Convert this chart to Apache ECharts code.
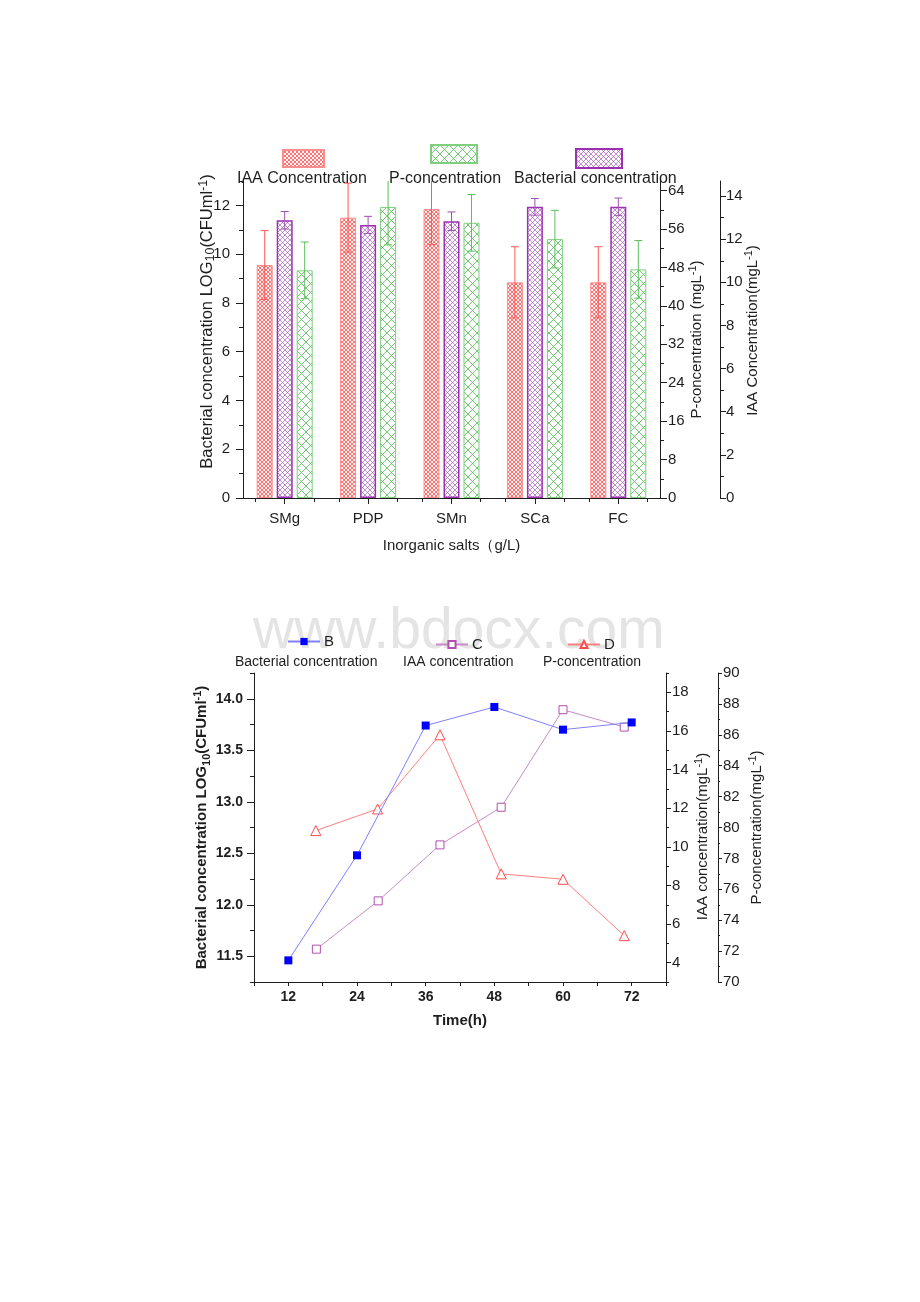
<!DOCTYPE html>
<html>
<head>
<meta charset="utf-8">
<script src="https://cdn.jsdelivr.net/npm/echarts@6/dist/echarts.min.js"></script>
<style>
html,body{margin:0;padding:0;background:#fff;}
#c{width:920px;height:1302px;}
</style>
</head>
<body>
<div id="c"></div>
<script>
// ---------- Data: bar chart (inorganic salts) ----------
const categories = ['SMg', 'PDP', 'SMn', 'SCa', 'FC'];
const iaaValues = [10.8, 13.0, 13.4, 10.0, 10.0];
const iaaErrors = [1.6, 1.6, 1.65, 1.65, 1.65];
const bacterialValues = [11.39, 11.2, 11.35, 11.94, 11.94];
const bacterialErrors = [0.36, 0.35, 0.38, 0.34, 0.36];
const pValues = [47.4, 60.6, 57.3, 53.9, 47.6];
const pErrors = [5.9, 7.9, 5.9, 6.0, 6.0];

const barLeftTicks = [0, 2, 4, 6, 8, 10, 12];
const barLeftMinor = [1, 3, 5, 7, 9, 11, 13];
const barPTicks = [0, 8, 16, 24, 32, 40, 48, 56, 64];
const barPMinor = [4, 12, 20, 28, 36, 44, 52, 60];
const barIaaTicks = [0, 2, 4, 6, 8, 10, 12, 14];
const barIaaMinor = [1, 3, 5, 7, 9, 11, 13];

// ---------- Data: time course ----------
const bHours = [12, 24, 36, 48, 60, 72];
const bValues = [11.46, 12.48, 13.74, 13.92, 13.70, 13.77];
const cHours = [16.9, 27.7, 38.5, 49.2, 60, 70.7];
const cValues = [4.7, 7.2, 10.1, 12.05, 17.1, 16.2];
const dHours = [16.8, 27.6, 38.5, 49.2, 60, 70.7];
const dValues = [79.8, 81.2, 86.0, 77.0, 76.65, 73.0];

const timeTicks = [12, 24, 36, 48, 60, 72];
const timeAllTicks = [6, 12, 18, 24, 30, 36, 42, 48, 54, 60, 66, 72, 78];
const lineLeftTicks = [11.5, 12.0, 12.5, 13.0, 13.5, 14.0];
const lineLeftMinor = [11.25, 11.75, 12.25, 12.75, 13.25, 13.75, 14.25];
const lineIaaTicks = [4, 6, 8, 10, 12, 14, 16, 18];
const lineIaaMinor = [3, 5, 7, 9, 11, 13, 15, 17, 19];
const linePTicks = [70, 72, 74, 76, 78, 80, 82, 84, 86, 88, 90];
const linePMinor = [71, 73, 75, 77, 79, 81, 83, 85, 87, 89];

// ---------- helpers ----------
const FONT = '"Liberation Sans", Arial, sans-serif';
const INK = '#1e1e1e';

function hatch(color, size, lw, bg) {
  const c = document.createElement('canvas');
  c.width = size; c.height = size;
  const g = c.getContext('2d');
  g.fillStyle = bg; g.fillRect(0, 0, size, size);
  g.strokeStyle = color; g.lineWidth = lw;
  g.beginPath();
  g.moveTo(-1, -1); g.lineTo(size + 1, size + 1);
  g.moveTo(size + 1, -1); g.lineTo(-1, size + 1);
  g.stroke();
  return { image: c, repeat: 'repeat' };
}
const redPat = hatch('rgba(255,70,70,0.75)', 4, 1, '#fff4f4');
const purplePat = hatch('rgba(165,80,185,0.65)', 5, 1, '#ffffff');
const greenPat = hatch('rgba(90,190,90,0.85)', 9, 1, '#ffffff');

function richName(pre, sub, mid, sup, post, size, bold) {
  const w = bold ? 'bold' : 'normal';
  return {
    text: '{t|' + pre + '}' + (sub ? '{sub|' + sub + '}' : '') + '{t|' + mid + '}{sup|' + sup + '}{t|' + post + '}',
    rich: {
      t: { fontSize: size, lineHeight: 20, color: INK, fontFamily: FONT, fontWeight: w },
      sub: { fontSize: size - 4, lineHeight: 12, verticalAlign: 'bottom', color: INK, fontFamily: FONT, fontWeight: w },
      sup: { fontSize: size - 4, lineHeight: 12, verticalAlign: 'top', color: INK, fontFamily: FONT, fontWeight: w }
    }
  };
}

function axisPair(o) {
  const main = {
    type: 'value', gridIndex: o.grid, position: o.position, offset: o.offset || 0,
    min: o.min, max: o.max,
    axisLine: { show: true, onZero: false, lineStyle: { color: INK, width: 1 } },
    axisTick: { show: true, inside: false, length: o.majorLen, customValues: o.majors, lineStyle: { color: INK } },
    axisLabel: { show: true, customValues: o.majors, margin: o.margin, fontSize: o.fontSize || 15,
      fontWeight: o.bold ? 'bold' : 'normal', color: INK, fontFamily: FONT,
      formatter: o.fmt || (v => String(v)) },
    splitLine: { show: false },
    name: o.name ? o.name.text : '', nameLocation: 'middle', nameGap: o.nameGap, nameRotate: o.nameRotate,
    nameMoveOverlap: false,
    nameTextStyle: o.name ? { rich: o.name.rich, fontFamily: FONT, padding: o.namePad || 0 } : {}
  };
  const minor = {
    type: 'value', gridIndex: o.grid, position: o.position, offset: o.offset || 0,
    min: o.min, max: o.max,
    axisLine: { show: false, onZero: false },
    axisTick: { show: true, inside: false, length: o.minorLen, customValues: o.minors, lineStyle: { color: INK } },
    axisLabel: { show: false },
    splitLine: { show: false }
  };
  return o.minors ? [main, minor] : [main];
}

// ---------- axes ----------
const xAxes = [
  {
    type: 'category', gridIndex: 0, data: categories, position: 'bottom',
    axisLine: { show: true, onZero: false, lineStyle: { color: INK } },
    axisTick: { show: true, alignWithLabel: true, length: 6, lineStyle: { color: INK } },
    axisLabel: { margin: 13, fontSize: 15, color: INK, fontFamily: FONT },
    splitLine: { show: false },
    name: 'Inorganic salts（g/L)', nameLocation: 'middle', nameGap: 40,
    nameTextStyle: { fontSize: 15, color: INK, fontFamily: FONT }
  },
  {
    type: 'value', gridIndex: 0, position: 'bottom', min: -0.5, max: 4.5,
    axisLine: { show: false, onZero: false },
    axisTick: { show: true, length: 4, customValues: [-0.35, 0.35, 0.65, 1.35, 1.65, 2.35, 2.65, 3.35, 3.65, 4.35], lineStyle: { color: INK } },
    axisLabel: { show: false }, splitLine: { show: false }
  },
  {
    type: 'value', gridIndex: 1, position: 'bottom', min: 6, max: 78,
    axisLine: { show: true, onZero: false, lineStyle: { color: INK } },
    axisTick: { show: true, length: 4, customValues: timeAllTicks, lineStyle: { color: INK } },
    axisLabel: { customValues: timeTicks, margin: 8, fontSize: 14, fontWeight: 'bold', color: INK, fontFamily: FONT },
    splitLine: { show: false },
    name: 'Time(h)', nameLocation: 'middle', nameGap: 31,
    nameTextStyle: { fontSize: 15, fontWeight: 'bold', color: INK, fontFamily: FONT }
  }
];

const yAxes = [].concat(
  // 0,1 : top left bacterial
  axisPair({ grid: 0, position: 'left', min: 0, max: 13, majors: barLeftTicks, minors: barLeftMinor,
    majorLen: 7, minorLen: 4, margin: 13,
    name: richName('Bacterial concentration LOG', '10', '(CFUml', '-1', ')', 16.5, false), nameGap: 26, nameRotate: 90,
    namePad: [0, 0, 0, 36] }),
  // 2,3 : top P
  axisPair({ grid: 0, position: 'right', min: 0, max: 66, majors: barPTicks, minors: barPMinor,
    majorLen: 7, minorLen: 4, margin: 8,
    name: richName('P-concentration (mgL', '', '', '-1', ')', 15, false), nameGap: 27, nameRotate: 90 }),
  // 4,5 : top IAA
  axisPair({ grid: 0, position: 'right', offset: 60, min: 0, max: 14.7, majors: barIaaTicks, minors: barIaaMinor,
    majorLen: 6, minorLen: 4, margin: 6,
    name: richName('IAA Concentration(mgL', '', '', '-1', ')', 15, false), nameGap: 23, nameRotate: 90,
    namePad: [0, 0, 0, 18] }),
  // 6,7 : bottom left bacterial
  axisPair({ grid: 1, position: 'left', min: 11.25, max: 14.25, majors: lineLeftTicks, minors: lineLeftMinor,
    majorLen: 7, minorLen: 4, margin: 11, bold: true, fontSize: 14, fmt: v => v.toFixed(1),
    name: richName('Bacterial concentration LOG', '10', '(CFUml', '-1', ')', 15, true), nameGap: 42, nameRotate: 90 }),
  // 8,9 : bottom IAA
  axisPair({ grid: 1, position: 'right', min: 3, max: 19, majors: lineIaaTicks, minors: lineIaaMinor,
    majorLen: 5, minorLen: 3, margin: 6, fontSize: 15,
    name: richName('IAA concentration(mgL', '', '', '-1', ')', 15, false), nameGap: 27, nameRotate: 90,
    namePad: [0, 18, 0, 0] }),
  // 10,11 : bottom P
  axisPair({ grid: 1, position: 'right', offset: 52, min: 70, max: 90, majors: linePTicks, minors: linePMinor,
    majorLen: 4, minorLen: 2, margin: 5, fontSize: 15,
    name: richName('P-concentration(mgL', '', '', '-1', ')', 15, false), nameGap: 29, nameRotate: 90 })
);

// ---------- error bars ----------
function errSeries(name, yIdx, vals, errs, offset, color) {
  return {
    type: 'custom', name: name + ' err', xAxisIndex: 0, yAxisIndex: yIdx, z: 5,
    encode: { x: 0, y: 1 },
    data: categories.map((c, i) => [i, vals[i], errs[i]]),
    renderItem: function (params, api) {
      const i = api.value(0), v = api.value(1), e = api.value(2);
      const t = api.coord([i, v + e]);
      const b = api.coord([i, v - e]);
      const x = t[0] + offset;
      const topLimit = params.coordSys.y;
      const yTop = Math.max(t[1], topLimit);
      const cap = 4;
      const kids = [
        { type: 'line', shape: { x1: x, y1: yTop, x2: x, y2: b[1] }, style: { stroke: color, lineWidth: 1 } },
        { type: 'line', shape: { x1: x - cap, y1: b[1], x2: x + cap, y2: b[1] }, style: { stroke: color, lineWidth: 1 } }
      ];
      if (t[1] >= topLimit) kids.push({ type: 'line', shape: { x1: x - cap, y1: t[1], x2: x + cap, y2: t[1] }, style: { stroke: color, lineWidth: 1 } });
      return { type: 'group', children: kids };
    },
    silent: true
  };
}

const series = [
  { type: 'bar', name: 'IAA Concentration', xAxisIndex: 0, yAxisIndex: 4, data: iaaValues,
    barWidth: 16, barGap: '25%',
    itemStyle: { color: redPat, borderColor: '#ff8c8c', borderWidth: 1 } },
  { type: 'bar', name: 'Bacterial concentration', xAxisIndex: 0, yAxisIndex: 0, data: bacterialValues,
    barWidth: 16, barGap: '25%',
    itemStyle: { color: purplePat, borderColor: '#9b30b0', borderWidth: 1.5 } },
  { type: 'bar', name: 'P-concentration', xAxisIndex: 0, yAxisIndex: 2, data: pValues,
    barWidth: 16, barGap: '25%',
    itemStyle: { color: greenPat, borderColor: '#7fcf7f', borderWidth: 1 } },
  errSeries('IAA', 4, iaaValues, iaaErrors, -20, '#ff5a5a'),
  errSeries('Bacterial', 0, bacterialValues, bacterialErrors, 0, '#a050b5'),
  errSeries('P', 2, pValues, pErrors, 20, '#5cbf5c'),
  { type: 'line', name: 'B', xAxisIndex: 2, yAxisIndex: 6,
    data: bHours.map((h, i) => [h, bValues[i]]),
    symbol: 'rect', symbolSize: 8, showSymbol: true, z: 4,
    lineStyle: { color: '#8080ff', width: 1 },
    itemStyle: { color: '#0000ff', borderColor: '#0000ff', borderWidth: 0 } },
  { type: 'line', name: 'C', xAxisIndex: 2, yAxisIndex: 8,
    data: cHours.map((h, i) => [h, cValues[i]]),
    symbol: 'rect', symbolSize: 8, showSymbol: true, z: 3,
    lineStyle: { color: '#c88ac8', width: 1 },
    itemStyle: { color: '#ffffff', borderColor: '#b050b0', borderWidth: 1 } },
  { type: 'line', name: 'D', xAxisIndex: 2, yAxisIndex: 10,
    data: dHours.map((h, i) => [h, dValues[i]]),
    symbol: 'triangle', symbolSize: 10, showSymbol: true, z: 3,
    lineStyle: { color: '#ff8080', width: 1 },
    itemStyle: { color: '#ffffff', borderColor: '#ff4a4a', borderWidth: 1 } }
];

function iconLegend(name, left, top, w, h) {
  return { data: [{ name: name, icon: 'rect' }], left: left, top: top, itemWidth: w, itemHeight: h, padding: 0,
    formatter: () => '', selectedMode: false, textStyle: { fontSize: 1 } };
}
function lineLegend(name, left, top) {
  return { data: [name], left: left, top: top, itemWidth: 32, itemHeight: 9, itemGap: 0, padding: 0,
    selectedMode: false, textStyle: { fontSize: 15, color: INK, fontFamily: FONT, padding: [0, 0, 0, -1] } };
}

function txt(s, left, top, size, weight) {
  return { type: 'text', left: left, top: top, z: 10,
    style: { text: s, fontSize: size, fontFamily: FONT, fill: INK, fontWeight: weight || 'normal' } };
}

const option = {
  animation: false,
  backgroundColor: '#ffffff',
  textStyle: { fontFamily: FONT },
  grid: [
    { left: 243, top: 181, width: 417, height: 317 },
    { left: 254, top: 673, width: 412, height: 309 }
  ],
  xAxis: xAxes,
  yAxis: yAxes,
  legend: [
    iconLegend('IAA Concentration', 282, 149, 41, 17),
    iconLegend('P-concentration', 430, 144, 46, 18),
    iconLegend('Bacterial concentration', 575, 148, 46, 19),
    lineLegend('B', 287, 634),
    lineLegend('C', 435, 637),
    lineLegend('D', 567, 637)
  ],
  graphic: [
    { type: 'text', left: 253, top: 604, z: -10, silent: true,
      style: { text: 'www.bdocx.com', fontSize: 57, fontFamily: FONT, fill: '#e4e4e4' } },
    txt('IAA Concentration', 237, 171, 16),
    txt('P-concentration', 389, 171, 16),
    txt('Bacterial concentration', 514, 171, 16),
    txt('Bacterial concentration', 235, 655, 14),
    txt('IAA concentration', 403, 655, 14),
    txt('P-concentration', 543, 655, 14)
  ],
  series: series
};

const chart = echarts.init(document.getElementById('c'), null, { renderer: 'canvas' });
chart.setOption(option);
</script>
</body>
</html>
